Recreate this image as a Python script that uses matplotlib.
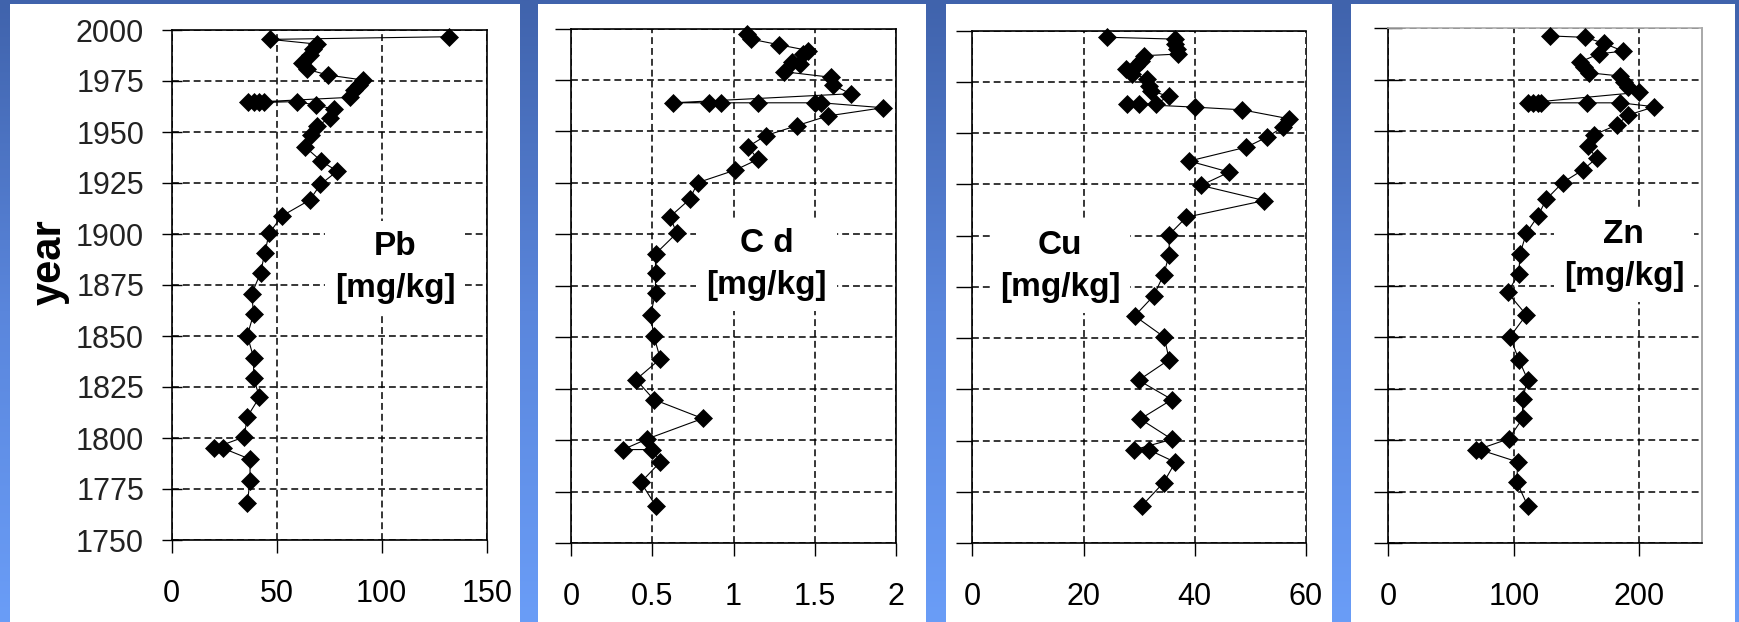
import numpy as np
import matplotlib
matplotlib.use('Agg')
import matplotlib.pyplot as plt
from matplotlib.patches import Rectangle
from matplotlib.colors import LinearSegmentedColormap

plt.rcParams['font.family'] = ['Liberation Sans', 'DejaVu Sans']

# Pb profile (year, mg/kg)
pb_year = [1996.7, 1995.4, 1993.1, 1990.5, 1987.7, 1984.0, 1980.7, 1977.9, 1975.5, 1973.0,
           1970.6, 1967.0, 1964.5, 1964.5, 1964.5, 1964.5, 1964.9, 1963.2, 1961.2, 1957.0,
           1952.8, 1948.7, 1942.7, 1935.7, 1930.8, 1924.3, 1916.7, 1908.9, 1900.4, 1890.6,
           1880.9, 1870.6, 1860.8, 1850.2, 1839.4, 1829.4, 1820.0, 1810.4, 1800.5, 1795.0,
           1795.0, 1789.6, 1779.1, 1768.0]
pb_val = [132, 47, 69, 67.5, 66, 62, 64.5, 74.5, 91, 89,
          87, 85, 36.5, 39, 41.5, 44, 59.5, 68.5, 77.5, 75.5,
          69, 66.3, 63.5, 71.3, 78.8, 70.8, 65.8, 52.6, 46.4, 44.3,
          42.3, 38.1, 39.0, 36.0, 39.0, 39.0, 41.8, 36.0, 34.5, 20.0,
          24.4, 37.3, 37.3, 36.0]

# Cd profile
cd_year = [1997.2, 1994.8, 1992.1, 1989.3, 1987.7, 1983.7, 1982.9, 1979.0, 1976.3, 1972.6,
           1968.3, 1963.9, 1963.9, 1963.9, 1963.9, 1963.9, 1963.9, 1961.5, 1957.5, 1952.8,
           1948.0, 1942.6, 1936.4, 1931.2, 1925.1, 1917.0, 1908.6, 1900.5, 1890.5, 1881.1,
           1871.7, 1860.8, 1850.5, 1839.5, 1829.4, 1819.7, 1810.5, 1800.6, 1795.4, 1795.4,
           1789.4, 1779.5, 1768.2]
cd_val = [1.08, 1.11, 1.28, 1.46, 1.43, 1.36, 1.41, 1.31, 1.60, 1.61,
          1.72, 0.63, 0.85, 0.92, 1.15, 1.50, 1.54, 1.92, 1.58, 1.39,
          1.20, 1.09, 1.15, 1.01, 0.78, 0.73, 0.61, 0.65, 0.52, 0.52,
          0.52, 0.49, 0.51, 0.55, 0.40, 0.51, 0.81, 0.47, 0.32, 0.50,
          0.55, 0.43, 0.52]

# Cu profile
cu_year = [1996.8, 1995.9, 1993.5, 1991.1, 1988.6, 1987.8, 1985.4, 1983.0, 1981.3, 1978.9,
           1976.5, 1973.2, 1970.8, 1967.9, 1964.3, 1964.3, 1964.3, 1962.7, 1961.4, 1957.0,
           1952.9, 1948.1, 1943.2, 1936.4, 1931.0, 1924.5, 1917.1, 1909.0, 1900.5, 1890.7,
           1880.9, 1870.6, 1860.8, 1850.5, 1839.5, 1829.4, 1820.0, 1810.5, 1800.6, 1795.4,
           1795.4, 1789.4, 1779.5, 1768.2]
cu_val = [24.2, 36.4, 36.5, 36.8, 37.0, 30.9, 30.3, 29.4, 27.6, 28.8,
          31.5, 31.8, 32.1, 35.3, 33.0, 29.9, 27.9, 40.0, 48.5, 57.0,
          55.8, 53.0, 49.3, 39.0, 46.2, 41.1, 52.5, 38.5, 35.4, 35.4,
          34.4, 32.6, 29.2, 34.5, 35.4, 29.9, 35.9, 30.2, 35.9, 29.0,
          31.8, 36.5, 34.4, 30.5]

# Zn profile
zn_year = [1996.3, 1995.6, 1992.7, 1988.9, 1987.6, 1983.7, 1981.3, 1978.4, 1976.8, 1974.1,
           1971.7, 1968.9, 1963.8, 1963.8, 1963.8, 1963.8, 1963.8, 1963.8, 1961.9, 1957.8,
           1953.0, 1948.3, 1942.6, 1936.9, 1931.2, 1925.1, 1917.0, 1908.6, 1900.5, 1890.5,
           1880.7, 1871.7, 1860.8, 1850.2, 1839.1, 1829.4, 1820.0, 1810.5, 1800.6, 1795.1,
           1795.1, 1789.4, 1779.5, 1768.2]
zn_val = [129, 157, 172, 187, 168, 153, 156, 160, 185, 188,
          191, 200, 111, 115, 119, 122, 158, 185, 212, 191,
          182, 164, 159, 166, 155, 139, 126, 119, 110, 105,
          104, 95, 110, 97, 104, 111, 107, 107, 96, 70,
          74, 103, 102.5, 111]

labels = ['Pb\n[mg/kg]', 'C d\n[mg/kg]', 'Cu\n[mg/kg]', 'Zn\n[mg/kg]']
x_max = [150, 2, 60, 250]
x_ticks = [[0, 50, 100, 150], [0, 0.5, 1, 1.5, 2], [0, 20, 40, 60], [0, 100, 200]]
x_ticklabels = [['0', '50', '100', '150'], ['0', '0.5', '1', '1.5', '2'],
                ['0', '20', '40', '60'], ['0', '100', '200']]
y_ticks = list(range(1750, 2001, 25))

W, H = 1739, 622
fig = plt.figure(figsize=(W / 100, H / 100), dpi=100)

# blue gradient background + white panels
bg = fig.add_axes([0, 0, 1, 1])
bg.axis('off')
cmap = LinearSegmentedColormap.from_list('bg', ['#6a9df7', '#5a86dc', '#4063ac'])
grad = np.linspace(0, 1, 256).reshape(-1, 1)
bg.imshow(grad, aspect='auto', cmap=cmap, extent=[0, 1, 0, 1], origin='lower')
bg.set_xlim(0, 1)
bg.set_ylim(0, 1)
for x0, x1 in [(10, 520), (538, 926), (946, 1332), (1351, 1735)]:
    bg.add_patch(Rectangle((x0 / W, 0), (x1 - x0) / W, (H - 4) / H,
                           facecolor='white', edgecolor='none'))

# axes boxes in pixels: left, right, top, bottom
boxes = [(171.7, 486.7, 30, 540), (571, 896, 28.5, 543),
         (972.3, 1306, 30.7, 543), (1388.3, 1702, 28.3, 543)]
label_pos = [(0.709, 0.535), (0.602, 0.542), (0.263, 0.539), (0.751, 0.558)]
series = [(pb_val, pb_year), (cd_val, cd_year), (cu_val, cu_year), (zn_val, zn_year)]

for i in range(4):
    l, r, t, b = boxes[i]
    ax = fig.add_axes([l / W, 1 - b / H, (r - l) / W, (b - t) / H])
    ax.set_facecolor('white')
    vals, yrs = series[i]
    ax.plot(vals, yrs, color='k', lw=0.8, marker='D', ms=9, mfc='k', mec='k',
            mew=0.5, clip_on=False, zorder=3)
    ax.set_xlim(0, x_max[i])
    ax.set_ylim(1750, 2000)
    ax.set_xticks(x_ticks[i])
    ax.set_xticklabels(x_ticklabels[i])
    ax.set_yticks(y_ticks)
    ax.grid(True, color='k', ls=(0, (4.5, 2.6)), lw=1.1)
    ax.tick_params(axis='x', direction='out', length=9.4, width=1.0, pad=19,
                   labelsize=22, colors='k')
    for s in ax.spines.values():
        s.set_linewidth(1.2)
        s.set_color('k')
    if i == 0:
        ax.tick_params(axis='y', direction='inout', length=14.4, width=1.0,
                       pad=12.7, labelsize=22, labelcolor='#222222')
    elif i == 3:
        ax.tick_params(axis='y', direction='inout', length=20, width=1.0,
                       labelleft=False)
        ax.spines['right'].set_color('#999999')
        ax.spines['top'].set_color('#aaaaaa')
    else:
        ax.tick_params(axis='y', direction='out', length=11.5, width=1.0,
                       labelleft=False)
    if i == 2:
        ax.spines['right'].set_linewidth(0.6)
    ax.text(label_pos[i][0], label_pos[i][1], labels[i], transform=ax.transAxes,
            ha='center', va='center', fontsize=24, fontweight='bold',
            linespacing=1.45, zorder=4,
            bbox=dict(facecolor='white', edgecolor='none', boxstyle='square,pad=0.3'))

fig.text(50 / W, 1 - 262 / H, 'year', rotation=90, fontsize=30, fontweight='bold',
         ha='center', va='center')

fig.savefig('out.png', dpi=100)
